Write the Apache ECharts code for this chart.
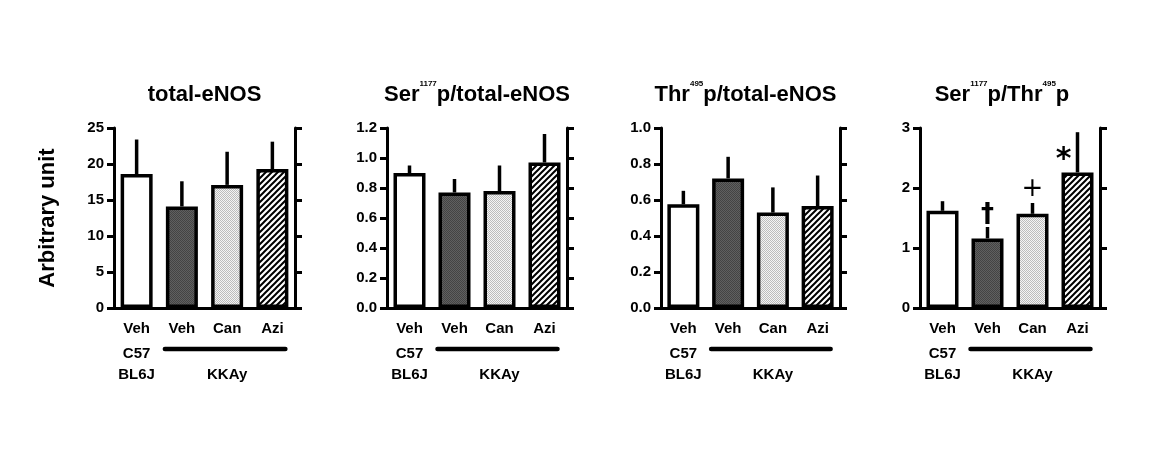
<!DOCTYPE html>
<html><head><meta charset="utf-8">
<script src="https://cdn.jsdelivr.net/npm/echarts@6/dist/echarts.min.js"></script>
<style>html,body{margin:0;padding:0;background:#fff}#c{width:1167px;height:475px}</style>
</head><body><div id="c"></div>
<script>
// ---- data ----
const groups = ['Veh', 'Veh', 'Can', 'Azi'];
const strainLabels = ['C57\nBL6J', '', '\nKKAy', ''];
const panelTitles = [
  '{m|total-eNOS}',
  '{m|Ser}{s|1177}{m|p/total-eNOS}',
  '{m|Thr}{s|495}{m|p/total-eNOS}',
  '{m|Ser}{s|1177}{m|p/Thr}{s|495}{m|p}'
];
const yAxisTitle = 'Arbitrary unit';
const totalENOS = [18.6, 14.1, 17.1, 19.3];
const totalENOSErr = [4.8, 3.5, 4.6, 3.8];
const ser1177 = [0.90, 0.77, 0.78, 0.97];
const ser1177Err = [0.05, 0.09, 0.17, 0.19];
const thr495 = [0.576, 0.72, 0.53, 0.566];
const thr495Err = [0.075, 0.12, 0.14, 0.17];
const serThrRatio = [1.62, 1.16, 1.57, 2.26];
const serThrRatioErr = [0.16, 0.19, 0.18, 0.67];
const yMax = [25, 1.2, 1.0, 3];
const yStep = [5, 0.2, 0.2, 1];
const yDecimals = [0, 1, 1, 0];
const sigMarks = ['', '\u2020', '+', '*'];
const sigMarkY = [0, 1.54, 1.98, 2.46];

const means = [totalENOS, ser1177, thr495, serThrRatio];
const errs = [totalENOSErr, ser1177Err, thr495Err, serThrRatioErr];

// ---- layout / style ----
const gridLeft = [114, 387, 661, 920];
const gridWidth = [181, 180, 179, 180];
const titleShift = [0, 0, 10, 16];
const FONT = "'Liberation Sans', Arial, sans-serif";

function makePattern(w, h, draw) {
  const c = document.createElement('canvas');
  c.width = w; c.height = h;
  draw(c.getContext('2d'));
  return { image: c, repeat: 'repeat' };
}
const darkFill = makePattern(2, 2, ctx => {
  ctx.fillStyle = '#606060'; ctx.fillRect(0, 0, 2, 2);
  ctx.fillStyle = '#444444'; ctx.fillRect(0, 0, 1, 1); ctx.fillRect(1, 1, 1, 1);
});
const lightFill = makePattern(2, 2, ctx => {
  ctx.fillStyle = '#f4f4f4'; ctx.fillRect(0, 0, 2, 2);
  ctx.fillStyle = '#bcbcbc'; ctx.fillRect(0, 0, 1, 1); ctx.fillRect(1, 1, 1, 1);
});
const hatchFill = makePattern(6, 6, ctx => {
  ctx.fillStyle = '#fff'; ctx.fillRect(0, 0, 6, 6);
  ctx.strokeStyle = '#000'; ctx.lineWidth = 2;
  ctx.beginPath();
  ctx.moveTo(-1, 7); ctx.lineTo(7, -1);
  ctx.moveTo(-1, 1); ctx.lineTo(1, -1);
  ctx.moveTo(5, 7); ctx.lineTo(7, 5);
  ctx.stroke();
});
const fills = ['#ffffff', darkFill, lightFill, hatchFill];

const lineStyle = { color: '#000', width: 3 };
const labelStyle = { color: '#000', fontSize: 15, fontWeight: 'bold', fontFamily: FONT };
const titleRich = {
  m: { fontSize: 22, fontWeight: 'bold', fontFamily: FONT, color: '#000', lineHeight: 26, verticalAlign: 'bottom' },
  s: { fontSize: 8, fontWeight: 'bold', fontFamily: FONT, color: '#000', verticalAlign: 'top', lineHeight: 10 }
};

const grid = [], xAxis = [], yAxis = [], series = [];
for (let i = 0; i < 4; i++) {
  grid.push({ left: gridLeft[i], width: gridWidth[i], top: 128, height: 180, containLabel: false });
  xAxis.push({
    type: 'category', gridIndex: i, data: groups, position: 'bottom',
    axisLine: { lineStyle: lineStyle }, axisTick: { show: false },
    axisLabel: Object.assign({ interval: 0, margin: 13 }, labelStyle)
  });
  xAxis.push({
    type: 'category', gridIndex: i, data: groups, position: 'top',
    axisLine: { lineStyle: lineStyle }, axisTick: { show: false }, axisLabel: { show: false },
    name: panelTitles[i], nameLocation: 'middle', nameGap: 22,
    nameTextStyle: { rich: titleRich, fontSize: 22, fontWeight: 'bold', fontFamily: FONT, color: '#000',
                     padding: [0, titleShift[i], 0, 0] }
  });
  xAxis.push({
    type: 'category', gridIndex: i, data: strainLabels, position: 'bottom', offset: 30,
    axisLine: { show: false }, axisTick: { show: false },
    axisLabel: Object.assign({ interval: 0, margin: 5, lineHeight: 21 }, labelStyle)
  });
  const dec = yDecimals[i];
  yAxis.push({
    type: 'value', gridIndex: i, min: 0, max: yMax[i], interval: yStep[i], position: 'left',
    axisLine: { show: true, lineStyle: lineStyle },
    axisTick: { show: true, inside: false, length: 7, lineStyle: lineStyle },
    splitLine: { show: false },
    axisLabel: Object.assign({ margin: 10, formatter: v => v.toFixed(dec) }, labelStyle),
    name: i === 0 ? yAxisTitle : '', nameLocation: 'middle', nameGap: 55,
    nameTextStyle: { fontSize: 22, fontWeight: 'bold', fontFamily: FONT, color: '#000' }
  });
  yAxis.push({
    type: 'value', gridIndex: i, min: 0, max: yMax[i], interval: yStep[i], position: 'right',
    axisLine: { show: true, lineStyle: lineStyle },
    axisTick: { show: true, inside: false, length: 7, lineStyle: lineStyle },
    splitLine: { show: false }, axisLabel: { show: false }
  });
  series.push({
    type: 'bar', xAxisIndex: 3 * i, yAxisIndex: 2 * i, barWidth: 32,
    itemStyle: { borderColor: '#000', borderWidth: 3.5 },
    data: means[i].map((v, k) => ({ value: v, itemStyle: { color: fills[k] } })),
    z: 3
  });
  series.push({
    type: 'custom', xAxisIndex: 3 * i, yAxisIndex: 2 * i, z: 2,
    data: means[i].map((v, k) => [k, v, v + errs[i][k]]),
    encode: { x: 0, y: [1, 2] },
    renderItem: (params, api) => {
      const p0 = api.coord([api.value(0), api.value(1)]);
      const p1 = api.coord([api.value(0), api.value(2)]);
      return { type: 'line', shape: { x1: p0[0], y1: p0[1], x2: p1[0], y2: p1[1] },
               style: { stroke: '#000', lineWidth: 3.5 } };
    }
  });
}
series.push({
  type: 'scatter', xAxisIndex: 9, yAxisIndex: 6, symbolSize: 1,
  itemStyle: { color: 'rgba(0,0,0,0)', opacity: 1 },
  z: 5,
  data: sigMarks.map((m, k) => m ? {
    value: [k, sigMarkY[k]],
    label: { show: true, position: 'inside', formatter: m, offset: m === '*' ? [-14, 0] : [0, 0],
             fontSize: m === '*' ? 30 : 26, fontWeight: m === '+' ? 'normal' : 'bold',
             fontFamily: "'DejaVu Sans', sans-serif", color: '#000', opacity: 1 }
  } : null).filter(d => d)
});

const chart = echarts.init(document.getElementById('c'), null, { renderer: 'canvas' });
chart.setOption({
  animation: false,
  backgroundColor: '#fff',
  textStyle: { fontFamily: FONT },
  grid, xAxis, yAxis, series
});

const graphics = [];
for (let i = 0; i < 4; i++) {
  const xa = chart.convertToPixel({ xAxisIndex: 3 * i }, 1);
  const xb = chart.convertToPixel({ xAxisIndex: 3 * i }, 3);
  const y0 = chart.convertToPixel({ yAxisIndex: 2 * i }, 0);
  graphics.push({
    type: 'line', shape: { x1: xa - 17, y1: y0 + 41, x2: xb + 13, y2: y0 + 41 },
    style: { stroke: '#000', lineWidth: 4.5, lineCap: 'round' }
  });
}
chart.setOption({ graphic: graphics });
</script>
</body></html>
